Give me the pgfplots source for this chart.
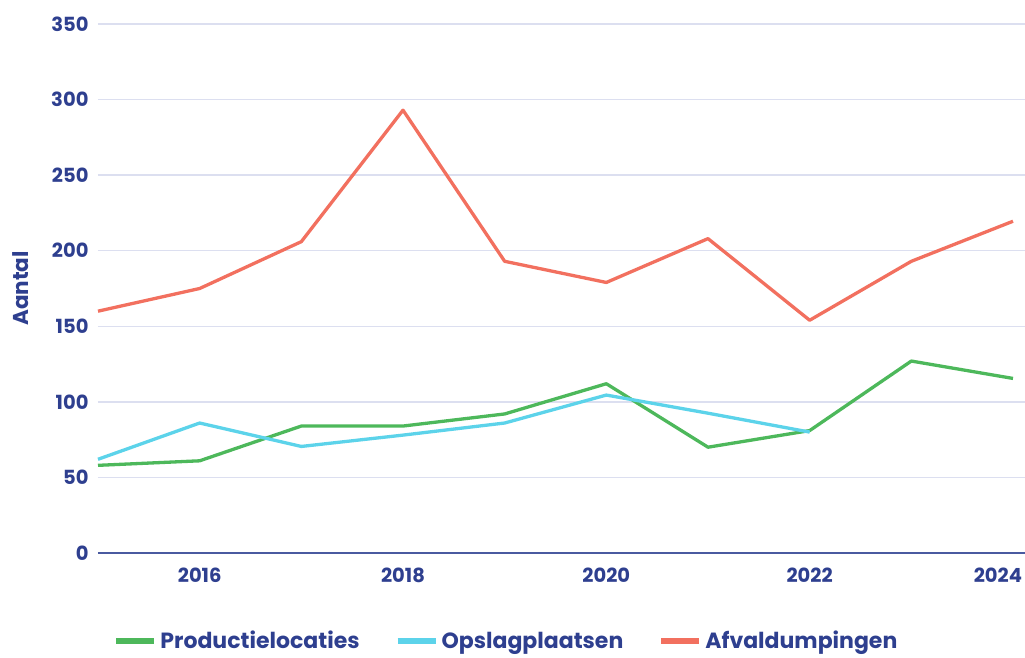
\documentclass[border=0pt]{standalone}
\usepackage{fontspec}
\setmainfont{Poppins}
\usepackage{pgfplots}
\pgfplotsset{compat=1.18}
\definecolor{txtblue}{HTML}{2E3F8F}
\definecolor{axblue}{HTML}{4A5AA0}
\definecolor{gridc}{HTML}{DCDFF0}
\definecolor{cgreen}{HTML}{4DB85B}
\definecolor{ccyan}{HTML}{5CD3EA}
\definecolor{cred}{HTML}{F2705F}
\begin{document}
\begin{tikzpicture}
\useasboundingbox (-98pt,-104pt) rectangle (927pt,553pt);
\begin{axis}[
  at={(0,0)}, anchor=south west,
  scale only axis, width=927pt, height=529pt,
  xmin=2015, xmax=2024.118, ymin=0, ymax=350,
  xtick={2016,2018,2020,2022,2024},
  xticklabels={2016,2018,2020,2022,{\makebox[0pt][r]{2024\hspace{-9pt}}}},
  ytick={0,50,...,350},
  /pgf/number format/assume math mode=true,
  /pgf/number format/1000 sep={},
  tick label style={font=\fontsize{19.5}{22}\selectfont\bfseries, text=txtblue},
  xticklabel style={yshift=-11pt},
  yticklabel style={xshift=-6pt},
  major tick length=0pt,
  axis lines=left,
  y axis line style={draw=none},
  x axis line style={draw=axblue, line width=1.8pt, -},
  ymajorgrids, grid style={draw=gridc, line width=1.3pt},
  ylabel={Aantal},
  ylabel style={at={(axis description cs:-0.083,0.5)}, anchor=center, font=\fontsize{21.5}{24}\selectfont\bfseries, text=txtblue},
  legend style={at={(axis description cs:0.440,-0.166)}, anchor=center, draw=none, fill=none,
    font=\fontsize{22}{25}\selectfont\bfseries, text=txtblue, column sep=2pt,
    /tikz/every even column/.append style={column sep=34pt},
    /tikz/every node/.append style={inner xsep=1pt}},
  legend columns=3,
  legend image code/.code={\draw[#1, line width=6pt] (0pt,0pt) -- (38pt,0pt);},
  every axis plot/.append style={line width=3.3pt, line join=round},
  clip=false,
]
\addplot[color=cgreen] coordinates {(2015,58) (2016,61) (2017,84) (2018,84) (2019,92) (2020,112) (2021,70) (2022,81) (2023,127) (2024,115.5)};
\addlegendentry{Productielocaties}
\addplot[color=ccyan] coordinates {(2015,62) (2016,86) (2017,70.5) (2018,78) (2019,86) (2020,104.5) (2021,92.5) (2022,80)};
\addlegendentry{Opslagplaatsen}
\addplot[color=cred] coordinates {(2015,160) (2016,175) (2017,206) (2018,293) (2019,193) (2020,179) (2021,208) (2022,154) (2023,193) (2024,219.5)};
\addlegendentry{Afvaldumpingen}
\end{axis}
\end{tikzpicture}
\end{document}
